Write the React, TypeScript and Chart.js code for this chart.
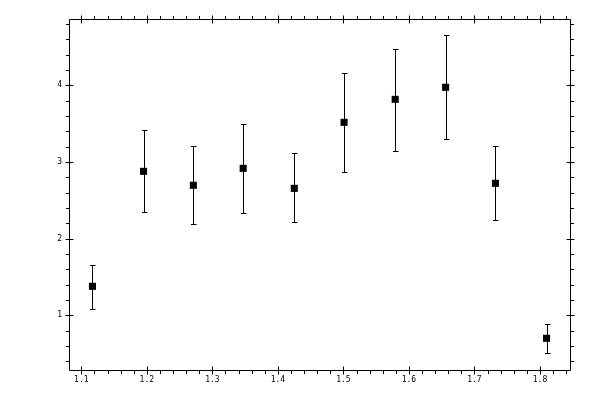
import { useEffect, useRef } from 'react'
import { Chart, registerables } from 'chart.js'

Chart.register(...registerables)

// measured points (x, y) with their error bar ends
const xValues = [1.117, 1.195, 1.271, 1.347, 1.425, 1.501, 1.579, 1.656, 1.732, 1.81]
const yValues = [1.378, 2.878, 2.696, 2.917, 2.656, 3.517, 3.817, 3.974, 2.722, 0.7]
const yHigh = [1.66, 3.421, 3.204, 3.491, 3.113, 4.156, 4.477, 4.652, 3.204, 0.891]
const yLow = [1.078, 2.343, 2.187, 2.33, 2.213, 2.865, 3.139, 3.296, 2.239, 0.508]

const xTickValues = [1.1, 1.2, 1.3, 1.4, 1.5, 1.6, 1.7, 1.8]
const yTickValues = [1, 2, 3, 4]

const X_MIN = 1.0812
const X_MAX = 1.8458
const Y_MIN = 0.2866
const Y_MAX = 4.865
const X_MINOR_STEP = 0.02
const Y_MINOR_STEP = 0.2

const FONT = { family: '"DejaVu Sans Mono", monospace', size: 8 }

// error bars, drawn under the square markers
const errorBars = {
  id: 'errorBars',
  beforeDatasetsDraw(chart: Chart) {
    const { ctx, scales } = chart
    const xs = scales.x
    const ys = scales.y
    ctx.save()
    ctx.strokeStyle = '#000'
    ctx.lineWidth = 1
    xValues.forEach((xv, i) => {
      const x = Math.round(xs.getPixelForValue(xv)) + 0.5
      const top = Math.round(ys.getPixelForValue(yHigh[i])) + 0.5
      const bot = Math.round(ys.getPixelForValue(yLow[i])) + 0.5
      ctx.beginPath()
      ctx.moveTo(x, top)
      ctx.lineTo(x, bot)
      ctx.moveTo(x - 2.5, top)
      ctx.lineTo(x + 3, top)
      ctx.moveTo(x - 2.5, bot)
      ctx.lineTo(x + 3, bot)
      ctx.stroke()
    })
    ctx.restore()
  },
}

// box frame with major ticks across the line and minor ticks outside, on all four sides
const frameTicks = {
  id: 'frameTicks',
  afterDraw(chart: Chart) {
    const { ctx, chartArea, scales } = chart
    const xs = scales.x
    const ys = scales.y
    const left = Math.floor(chartArea.left) + 0.5
    const right = Math.floor(chartArea.right) + 0.5
    const top = Math.floor(chartArea.top) + 0.5
    const bottom = Math.floor(chartArea.bottom) + 0.5
    ctx.save()
    ctx.strokeStyle = '#000'
    ctx.lineWidth = 1
    ctx.beginPath()
    ctx.rect(left, top, right - left, bottom - top)

    const isMajor = (v: number, list: number[]) => list.some((m) => Math.abs(m - v) < 1e-6)

    for (let v = Math.ceil(X_MIN / X_MINOR_STEP) * X_MINOR_STEP; v <= X_MAX + 1e-9; v += X_MINOR_STEP) {
      const x = Math.round(xs.getPixelForValue(v)) + 0.5
      if (isMajor(v, xTickValues)) {
        ctx.moveTo(x, bottom - 4)
        ctx.lineTo(x, bottom + 4)
        ctx.moveTo(x, top - 4)
        ctx.lineTo(x, top + 4)
      } else {
        ctx.moveTo(x, bottom)
        ctx.lineTo(x, bottom + 3.5)
        ctx.moveTo(x, top)
        ctx.lineTo(x, top - 3.5)
      }
    }
    for (let v = Math.ceil(Y_MIN / Y_MINOR_STEP) * Y_MINOR_STEP; v <= Y_MAX + 1e-9; v += Y_MINOR_STEP) {
      const y = Math.round(ys.getPixelForValue(v)) + 0.5
      if (isMajor(v, yTickValues)) {
        ctx.moveTo(left - 4, y)
        ctx.lineTo(left + 4, y)
        ctx.moveTo(right - 4, y)
        ctx.lineTo(right + 4, y)
      } else {
        ctx.moveTo(left, y)
        ctx.lineTo(left - 3.5, y)
        ctx.moveTo(right, y)
        ctx.lineTo(right + 3.5, y)
      }
    }
    ctx.stroke()
    ctx.restore()
  },
}

export default function App() {
  const canvasRef = useRef<HTMLCanvasElement>(null)
  const chartRef = useRef<Chart | null>(null)

  useEffect(() => {
    document.body.style.margin = '0'
    if (!canvasRef.current) return
    const ctx = canvasRef.current.getContext('2d')
    if (!ctx) return

    chartRef.current = new Chart(ctx, {
      type: 'scatter',
      data: {
        datasets: [{
          data: xValues.map((x, i) => ({ x, y: yValues[i] })),
          backgroundColor: '#000',
          borderColor: '#000',
          borderWidth: 0,
          pointStyle: 'rect',
          pointRadius: 5,
        }],
      },
      options: {
        responsive: false,
        animation: false,
        devicePixelRatio: 1,
        layout: { padding: { top: 19, right: 30, left: 0, bottom: 0 } },
        plugins: {
          legend: { display: false },
          tooltip: { enabled: false },
        },
        scales: {
          x: {
            type: 'linear',
            position: 'bottom',
            min: X_MIN,
            max: X_MAX,
            grid: { display: false, drawTicks: false },
            border: { display: false },
            afterBuildTicks: (scale: any) => {
              scale.ticks = xTickValues.map((value) => ({ value }))
            },
            afterFit: (scale: any) => {
              scale.height = 30
            },
            ticks: {
              color: '#000',
              font: FONT,
              padding: 5.5,
              maxRotation: 0,
              autoSkip: false,
              callback: (v: any) => Number(v).toFixed(1),
            },
          },
          y: {
            type: 'linear',
            position: 'left',
            min: Y_MIN,
            max: Y_MAX,
            grid: { display: false, drawTicks: false },
            border: { display: false },
            afterBuildTicks: (scale: any) => {
              scale.ticks = yTickValues.map((value) => ({ value }))
            },
            afterFit: (scale: any) => {
              scale.width = 69
            },
            ticks: {
              color: '#000',
              font: FONT,
              padding: 7,
              autoSkip: false,
              callback: (v: any) => String(v),
            },
          },
        },
      },
      plugins: [errorBars, frameTicks],
    })

    return () => {
      if (chartRef.current) {
        chartRef.current.destroy()
        chartRef.current = null
      }
    }
  }, [])

  return (
    <div style={{ width: 600, height: 400, background: '#fff' }}>
      <canvas ref={canvasRef} width={600} height={400} />
    </div>
  )
}
